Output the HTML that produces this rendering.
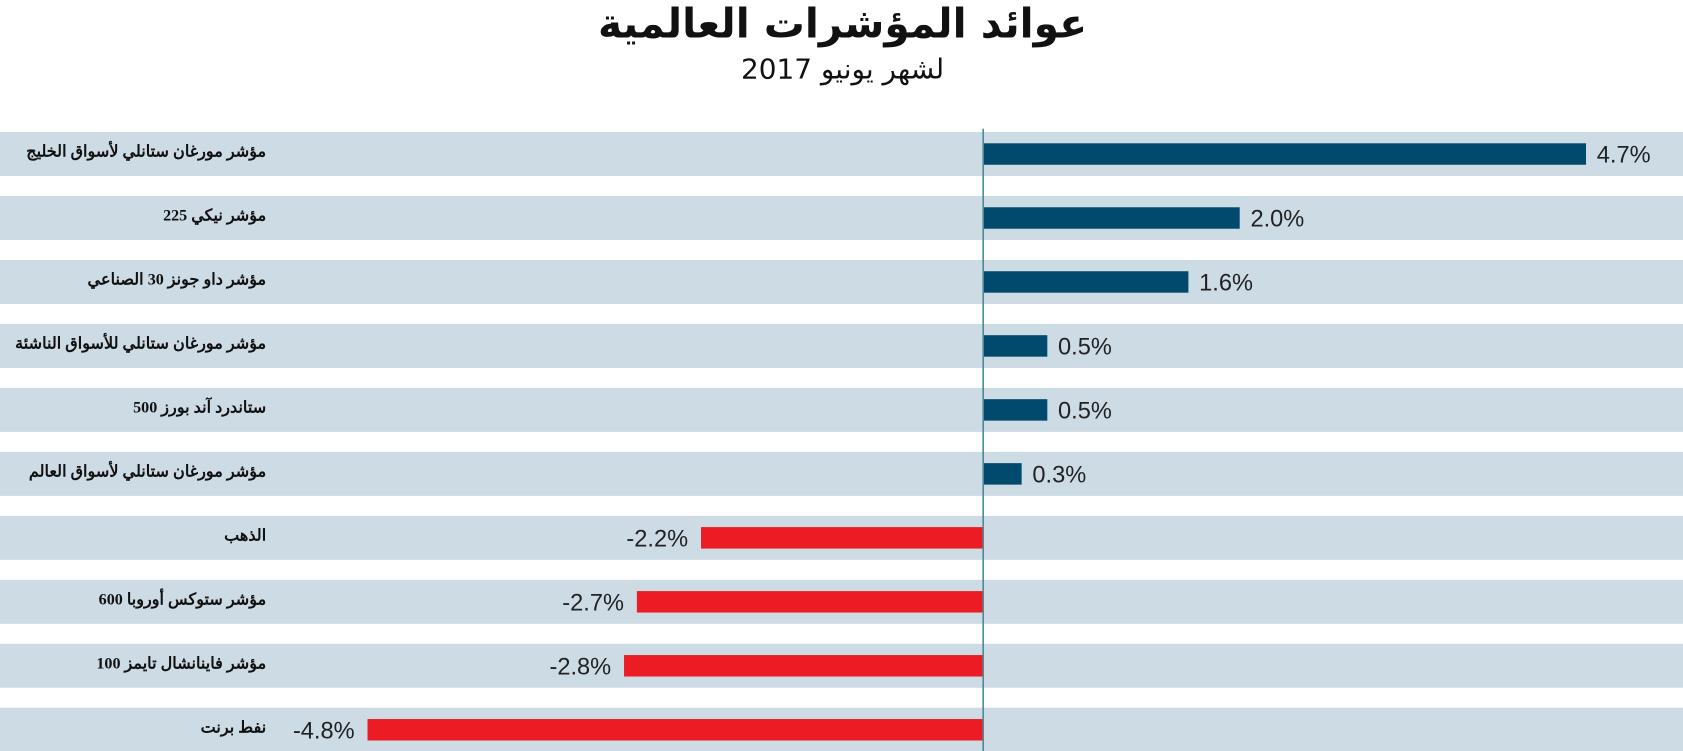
<!DOCTYPE html>
<html lang="ar">
<head>
<meta charset="utf-8">
<style>
  html,body{margin:0;padding:0;background:#fff;}
  body{width:1683px;height:751px;overflow:hidden;position:relative;font-family:"Liberation Sans","Noto Sans CJK SC",sans-serif;}
  #wrap{position:absolute;left:0;top:0;width:1568px;height:700px;transform:scale(1.07334);transform-origin:0 0;}
  #title{position:absolute;left:0;width:1570px;top:0px;text-align:center;font-size:38px;font-weight:bold;color:#111;direction:rtl;font-family:"DejaVu Sans",sans-serif;}
  #subtitle{position:absolute;left:0;width:1570px;top:50px;text-align:center;font-size:26px;color:#111;direction:rtl;font-family:"DejaVu Sans",sans-serif;}
  svg{position:absolute;left:0;top:0;}
</style>
</head>
<body>
<div id="wrap">
<div id="title">عوائد المؤشرات العالمية</div>
<div id="subtitle">لشهر يونيو 2017</div>
<svg id="chart" width="1568" height="700"></svg>
</div>
<script>
const categories = ["مؤشر مورغان ستانلي لأسواق الخليج","مؤشر نيكي 225","مؤشر داو جونز 30 الصناعي","مؤشر مورغان ستانلي للأسواق الناشئة","ستاندرد آند بورز 500","مؤشر مورغان ستانلي لأسواق العالم","الذهب","مؤشر ستوكس أوروبا 600","مؤشر فاينانشال تايمز 100","نفط برنت"];
const values = [4.7, 2.0, 1.6, 0.5, 0.5, 0.3, -2.2, -2.7, -2.8, -4.8];
const valueLabels = ["4.7%","2.0%","1.6%","0.5%","0.5%","0.3%","-2.2%","-2.7%","-2.8%","-4.8%"];

const NS = "http://www.w3.org/2000/svg";
const svg = document.getElementById('chart');
const zeroX = 916, pxPerUnit = 119.5;
const rowTop = 123, rowStep = 59.6, rowH = 41, barH = 20;
function xScale(v){ return zeroX + v * pxPerUnit; }
function yRow(i){ return rowTop + i * rowStep; }
function mk(tag, attrs){ const e = document.createElementNS(NS, tag); for (const k in attrs) e.setAttribute(k, attrs[k]); svg.appendChild(e); return e; }

categories.forEach((c, i) => {
  const y = yRow(i);
  const bg = mk('rect', {x:0, y:y, width:1568, height:rowH, fill:'#cddbe4'});
  
  
  const lab = mk('text', {x:248, y:y+rowH/2-1, 'text-anchor':'start', direction:'rtl', 'font-size':15, 'font-weight':'bold', fill:'#111', 'font-family':'"Liberation Serif","DejaVu Serif",serif', 'dominant-baseline':'middle'});
  lab.textContent = c;
  
  
  const v = values[i];
  const x0 = Math.min(xScale(0), xScale(v)), w = Math.abs(xScale(v) - xScale(0));
  const bar = mk('rect', {x:x0, y:y+(rowH-barH)/2, width:w, height:barH, fill: v >= 0 ? '#014a6e' : '#ec1c24'});
  
  
  const t = mk('text', {x: v >= 0 ? xScale(v)+10 : xScale(v)-12, y:y+rowH/2+8, 'text-anchor': v >= 0 ? 'start' : 'end', 'font-size':22, fill:'#222', direction:'ltr'});
  t.textContent = valueLabels[i];
  
  
});
const axis = mk('line', {x1:zeroX, x2:zeroX, y1:120, y2:700, stroke:'#4f8a96', 'stroke-width':1.5});


</script>
</body>
</html>
